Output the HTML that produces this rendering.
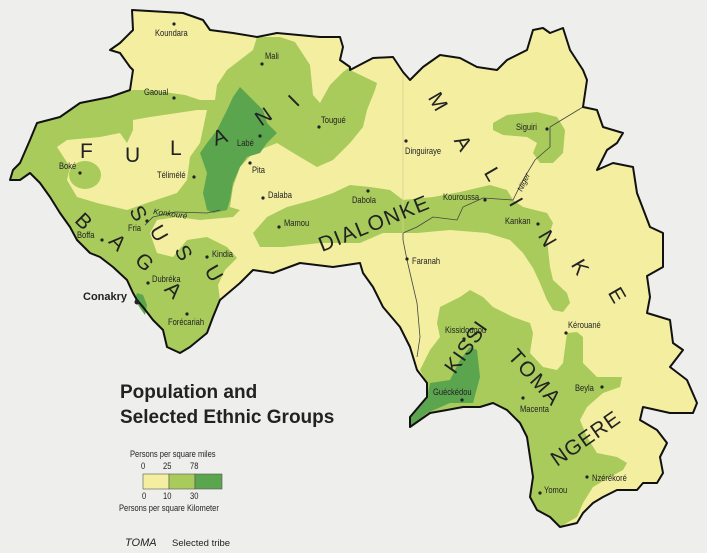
<!DOCTYPE html>
<html><head><meta charset="utf-8">
<style>
html,body{margin:0;padding:0;background:#eeeeec;}
svg{display:block;}
.c{font-family:"Liberation Sans Narrow","Liberation Sans",sans-serif;font-size:9px;fill:#222;transform-box:fill-box;transform-origin:0 100%;transform:scaleX(.84);}
.r{font-family:"Liberation Sans",sans-serif;font-size:8px;fill:#222;}
.t{font-family:"Liberation Sans",sans-serif;font-size:21px;fill:#222;}
.d{fill:#222;}
</style></head>
<body>
<svg width="707" height="553" viewBox="0 0 707 553">
<rect width="707" height="553" fill="#eeeeec"/>
<g>
<polygon fill="#f4eea0" points="132,10 183,13 203,20 210,30 233,33 257,37 277,33 320,37 340,37 343,47 340,60 350,67 350,70 373,58 393,57 403,72 410,80 423,67 440,55 460,58 477,67 497,70 507,60 527,50 533,30 543,28 550,33 563,28 570,50 583,70 587,80 583,107 597,110 603,127 623,133 617,143 607,150 597,170 613,163 633,167 637,193 650,227 663,233 663,267 647,276 650,297 647,313 670,320 673,343 683,350 670,367 687,380 697,403 693,413 670,413 643,407 640,420 657,430 667,443 660,457 663,473 657,483 643,483 637,490 617,490 603,497 593,503 583,513 577,523 560,527 550,517 537,510 530,497 533,477 530,457 527,437 520,423 507,410 493,403 480,407 463,407 447,410 430,413 410,427 410,417 427,397 427,383 417,370 410,347 400,327 383,307 373,287 363,273 360,263 333,267 300,263 273,273 253,270 240,283 220,300 213,317 207,333 190,347 180,353 167,347 163,330 153,320 143,307 137,300 133,293 127,280 113,267 100,257 90,253 77,240 70,227 60,213 50,197 40,183 30,173 20,180 10,180 13,170 20,163 30,140 37,123 60,117 80,103 110,97 130,90 133,70 130,67 120,53 110,50 120,43 133,30"/>
<polygon fill="#a8cb5c" points="257,37 280,37 295,42 310,65 313,95 320,103 330,85 343,72 350,67 350,70 377,83 375,90 367,110 363,127 350,143 333,160 317,167 300,157 277,143 267,147 253,153 240,167 233,187 230,207 240,210 233,217 200,220 177,217 157,220 150,233 157,253 173,257 187,240 207,237 227,247 237,258 225,270 218,285 220,300 213,317 207,333 190,347 180,353 167,347 163,330 153,320 143,307 137,300 133,293 127,280 113,267 100,257 90,253 77,240 70,227 60,213 50,197 40,183 30,173 20,180 10,180 13,170 20,163 30,140 37,123 60,117 80,103 110,97 133,90 150,90 185,95 200,100 215,100 217,85 227,70 253,50"/>
<polygon fill="#f4eea0" points="57,147 67,140 100,137 120,133 127,143 133,130 133,120 150,117 177,113 197,110 207,110 200,143 190,157 187,180 177,193 147,203 127,210 97,203 77,197 67,180 70,167"/>
<ellipse cx="85" cy="175" rx="16" ry="14" fill="#a8cb5c"/>
<polygon fill="#5ba54f" points="240,87 253,100 263,110 267,123 277,133 267,143 260,153 247,157 240,167 233,183 230,200 227,210 213,213 207,210 203,193 207,173 200,153 207,143 217,130 227,110 233,97"/>
<polygon fill="#5ba54f" points="137,293 143,295 147,305 145,315 140,308 135,300"/>
<polygon fill="#a8cb5c" points="253,233 267,217 287,207 313,200 333,193 350,185 370,187 390,190 403,200 433,197 460,192 490,185 507,190 513,200 523,207 547,213 553,223 547,240 550,267 553,280 567,293 570,303 563,312 553,310 547,300 540,283 533,268 523,253 510,240 487,233 450,230 417,233 403,233 383,233 360,243 320,243 283,247 260,247"/>
<polygon fill="#a8cb5c" points="493,123 507,115 537,112 557,117 565,130 563,153 553,163 540,163 533,153 537,143 527,137 503,135 493,130"/>
<polygon fill="#a8cb5c" points="440,307 460,297 470,290 483,297 493,307 513,317 530,323 533,333 530,353 543,367 557,370 563,363 567,333 577,332 583,337 583,363 597,377 610,377 622,377 620,387 603,393 587,407 580,420 587,437 597,453 617,457 627,463 623,470 610,477 593,487 583,503 577,517 560,527 550,517 537,510 530,497 533,477 530,457 527,437 520,423 507,410 493,403 480,407 463,407 447,410 430,413 410,427 410,417 427,397 427,383 420,370 430,350 440,337 437,323"/>
<polygon fill="#5ba54f" points="410,427 427,413 450,403 473,403 480,377 477,350 470,347 460,360 450,380 430,383 427,397 410,417"/>
<polyline fill="none" stroke="#444" stroke-width="0.8" points="583,107 550,127 550,147 535,160 523,180 513,200 483,198 463,207 457,220 433,217 417,227 403,233 403,240 407,260 417,303 420,337 417,357"/>
<polyline fill="none" stroke="#d8d090" stroke-width="0.8" points="403,72 403,233"/>
<polyline fill="none" stroke="#444" stroke-width="0.8" points="145,225 153,217 175,212 207,213 220,210"/>
<polygon fill="none" stroke="#111" stroke-width="2" stroke-linejoin="round" points="132,10 183,13 203,20 210,30 233,33 257,37 277,33 320,37 340,37 343,47 340,60 350,67 350,70 373,58 393,57 403,72 410,80 423,67 440,55 460,58 477,67 497,70 507,60 527,50 533,30 543,28 550,33 563,28 570,50 583,70 587,80 583,107 597,110 603,127 623,133 617,143 607,150 597,170 613,163 633,167 637,193 650,227 663,233 663,267 647,276 650,297 647,313 670,320 673,343 683,350 670,367 687,380 697,403 693,413 670,413 643,407 640,420 657,430 667,443 660,457 663,473 657,483 643,483 637,490 617,490 603,497 593,503 583,513 577,523 560,527 550,517 537,510 530,497 533,477 530,457 527,437 520,423 507,410 493,403 480,407 463,407 447,410 430,413 410,427 410,417 427,397 427,383 417,370 410,347 400,327 383,307 373,287 363,273 360,263 333,267 300,263 273,273 253,270 240,283 220,300 213,317 207,333 190,347 180,353 167,347 163,330 153,320 143,307 137,300 133,293 127,280 113,267 100,257 90,253 77,240 70,227 60,213 50,197 40,183 30,173 20,180 10,180 13,170 20,163 30,140 37,123 60,117 80,103 110,97 130,90 133,70 130,67 120,53 110,50 120,43 133,30"/>
</g>

<g>
<circle class="d" cx="174" cy="24" r="1.6"/><text class="c" x="155" y="36">Koundara</text>
<circle class="d" cx="262" cy="64" r="1.6"/><text class="c" x="265" y="59">Mali</text>
<circle class="d" cx="174" cy="98" r="1.6"/><text class="c" x="144" y="95">Gaoual</text>
<circle class="d" cx="319" cy="127" r="1.6"/><text class="c" x="321" y="123">Tougué</text>
<circle class="d" cx="260" cy="136" r="1.6"/><text class="c" x="237" y="146">Labé</text>
<circle class="d" cx="250" cy="163" r="1.6"/><text class="c" x="252" y="173">Pita</text>
<circle class="d" cx="194" cy="177" r="1.6"/><text class="c" x="157" y="178">Télimélé</text>
<circle class="d" cx="80" cy="173" r="1.6"/><text class="c" x="59" y="169">Boké</text>
<circle class="d" cx="263" cy="198" r="1.6"/><text class="c" x="268" y="198">Dalaba</text>
<circle class="d" cx="279" cy="227" r="1.6"/><text class="c" x="284" y="226">Mamou</text>
<circle class="d" cx="147" cy="221" r="1.6"/><text class="c" x="128" y="231">Fria</text>
<circle class="d" cx="102" cy="240" r="1.6"/><text class="c" x="77" y="238">Boffa</text>
<circle class="d" cx="207" cy="257" r="1.6"/><text class="c" x="212" y="257">Kindia</text>
<circle class="d" cx="148" cy="283" r="1.6"/><text class="c" x="152" y="282">Dubréka</text>
<circle cx="137" cy="302" r="2.5" fill="#222"/><text x="83" y="300" font-family="Liberation Sans,sans-serif" font-weight="bold" font-size="11" fill="#222">Conakry</text>
<circle class="d" cx="187" cy="314" r="1.6"/><text class="c" x="168" y="325">Forécariah</text>
<text class="r" x="153" y="214" font-style="italic" transform="rotate(8 153 214)">Konkouré</text>
<circle class="d" cx="406" cy="141" r="1.6"/><text class="c" x="405" y="154">Dinguiraye</text>
<circle class="d" cx="368" cy="191" r="1.6"/><text class="c" x="352" y="203">Dabola</text>
<circle class="d" cx="485" cy="200" r="1.6"/><text class="c" x="443" y="200">Kouroussa</text>
<circle class="d" cx="547" cy="129" r="1.6"/><text class="c" x="516" y="130">Siguiri</text>
<circle class="d" cx="538" cy="224" r="1.6"/><text class="c" x="505" y="224">Kankan</text>
<circle class="d" cx="407" cy="259" r="1.6"/><text class="c" x="412" y="264">Faranah</text>
<text class="r" x="522" y="192" font-size="7" transform="rotate(-65 522 192)" font-style="italic">Niger</text>
<circle class="d" cx="464" cy="339" r="1.6"/><text class="c" x="445" y="333">Kissidougou</text>
<circle class="d" cx="566" cy="333" r="1.6"/><text class="c" x="568" y="328">Kérouané</text>
<circle class="d" cx="462" cy="400" r="1.6"/><text class="c" x="433" y="395">Guéckédou</text>
<circle class="d" cx="602" cy="387" r="1.6"/><text class="c" x="575" y="391">Beyla</text>
<circle class="d" cx="523" cy="398" r="1.6"/><text class="c" x="520" y="412">Macenta</text>
<circle class="d" cx="540" cy="493" r="1.6"/><text class="c" x="544" y="493">Yomou</text>
<circle class="d" cx="587" cy="477" r="1.6"/><text class="c" x="592" y="481">Nzérékoré</text>
</g>

<g>
<text class="t" x="80" y="158">F</text>
<text class="t" x="125" y="162">U</text>
<text class="t" x="170" y="155">L</text>
<text class="t" x="213" y="144" transform="rotate(-20 220 138)">A</text>
<text class="t" x="256" y="124" transform="rotate(-35 263 117)">N</text>
<text class="t" x="291" y="106" transform="rotate(-45 296 100)">I</text>
<text class="t" x="76" y="228" transform="rotate(45 83 222)" font-size="19">B</text>
<text class="t" x="110" y="249" transform="rotate(45 117 243)" font-size="19">A</text>
<text class="t" x="136" y="268" transform="rotate(45 143 262)" font-size="19">G</text>
<text class="t" x="166" y="296" transform="rotate(45 172 290)" font-size="19">A</text>
<text class="t" x="131" y="219" transform="rotate(60 137 213)" font-size="19">S</text>
<text class="t" x="152" y="239" transform="rotate(60 158 232)" font-size="19">U</text>
<text class="t" x="177" y="259" transform="rotate(60 183 252)" font-size="19">S</text>
<text class="t" x="207" y="279" transform="rotate(60 213 272)" font-size="19">U</text>
<text class="t" x="430" y="107" transform="rotate(60 437 100)">M</text>
<text class="t" x="456" y="150" transform="rotate(60 463 143)">A</text>
<text class="t" x="486" y="182" transform="rotate(60 493 175)">L</text>
<text class="t" x="512" y="211" transform="rotate(60 517 204)">I</text>
<text class="t" x="540" y="245" transform="rotate(60 547 238)">N</text>
<text class="t" x="573" y="274" transform="rotate(60 580 267)">K</text>
<text class="t" x="610" y="302" transform="rotate(60 617 295)">E</text>
<text class="t" x="322" y="252" font-size="15" letter-spacing="1.5" transform="rotate(-22 322 252)">DIALONKE</text>
<text class="t" x="455" y="375" font-size="20" letter-spacing="1" transform="rotate(-55 455 375)">KISSI</text>
<text class="t" x="507" y="357" font-size="14" letter-spacing="2" transform="rotate(48 507 357)">TOMA</text>
<text class="t" x="557" y="467" font-size="15" letter-spacing="1" transform="rotate(-35 557 467)">NGERE</text>
</g>

<g font-family="Liberation Sans,sans-serif" font-weight="bold" font-size="19" fill="#222">
<text x="120" y="398">Population and</text>
<text x="120" y="423">Selected Ethnic Groups</text>
</g>

<g>
<text class="c" x="130" y="457" font-size="9">Persons per square miles</text>
<text class="c" x="141" y="469" font-size="9.5">0</text>
<text class="c" x="163" y="469" font-size="9.5">25</text>
<text class="c" x="190" y="469" font-size="9.5">78</text>
<rect x="143" y="474" width="26" height="15" fill="#f4eea0" stroke="#555" stroke-width="0.6"/>
<rect x="169" y="474" width="26" height="15" fill="#a8cb5c" stroke="#555" stroke-width="0.6"/>
<rect x="195" y="474" width="27" height="15" fill="#5ba54f" stroke="#555" stroke-width="0.6"/>
<text class="c" x="142" y="499" font-size="9.5">0</text>
<text class="c" x="163" y="499" font-size="9.5">10</text>
<text class="c" x="190" y="499" font-size="9.5">30</text>
<text class="c" x="119" y="511" font-size="9">Persons per square Kilometer</text>
<text x="125" y="546" font-family="Liberation Sans,sans-serif" font-style="italic" font-size="11" fill="#222">TOMA</text>
<text x="172" y="546" font-family="Liberation Sans,sans-serif" font-size="9.5" fill="#222">Selected tribe</text>
</g>
</svg>
</body></html>
